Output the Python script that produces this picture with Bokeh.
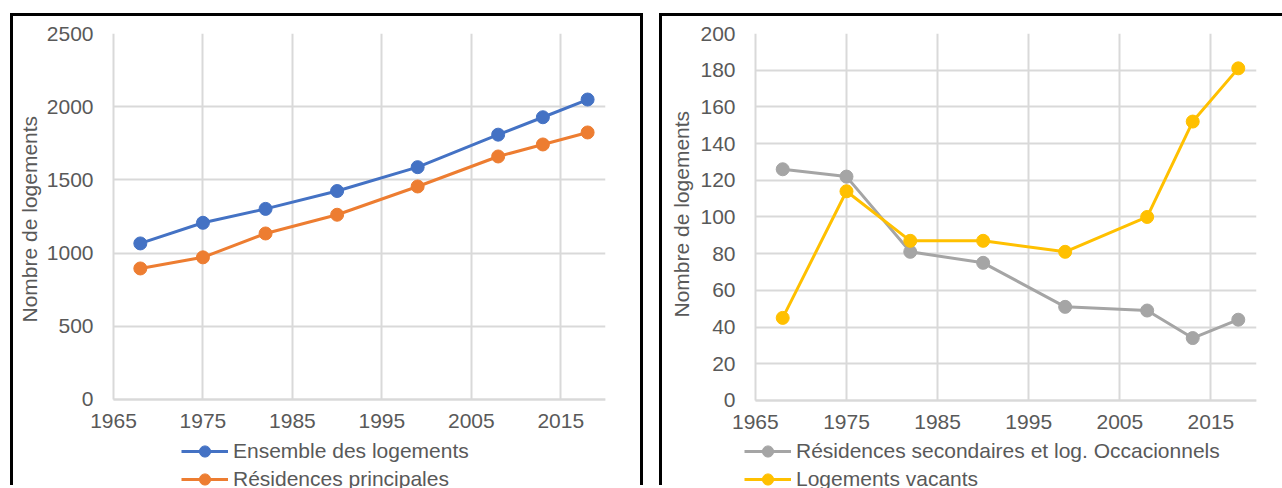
from bokeh.plotting import figure
from bokeh.models import Legend, LegendItem, FixedTicker, Range1d, Title
from bokeh.layouts import row
from bokeh.embed import file_html
from bokeh.resources import INLINE

# Census years and housing counts
years = [1968, 1975, 1982, 1990, 1999, 2008, 2013, 2018]
ensemble = [1066, 1207, 1302, 1424, 1587, 1809, 1928, 2049]
principales = [895, 971, 1134, 1262, 1455, 1660, 1742, 1824]
secondaires = [126, 122, 81, 75, 51, 49, 34, 44]
vacants = [45, 114, 87, 87, 81, 100, 152, 181]

x_ticks = [1965, 1975, 1985, 1995, 2005, 2015]
y_ticks_left = [0, 500, 1000, 1500, 2000, 2500]
y_ticks_right = [0, 20, 40, 60, 80, 100, 120, 140, 160, 180, 200]
y_title = "Nombre de logements"

FONT = "Liberation Sans"
TEXT = "#595959"
GRID = "#D9D9D9"
FS = "21px"
X_START, X_END = 1965, 2020


def panel(width, borders, x_lo, y_lo, y_max, y_ticks, series, legend_loc, margin,
          label_standoff, title_offset, title_standoff, right_border):
    left, right, top = borders
    # the frame runs down to the bottom of the canvas so that the legend,
    # which sits under the x axis, stays inside it
    p = figure(width=width, height=472,
               x_range=Range1d(x_lo, X_END), y_range=Range1d(y_lo, y_max),
               output_backend="svg", toolbar_location=None,
               min_border_left=left, min_border_right=right,
               min_border_top=top, min_border_bottom=0,
               background_fill_color="white", border_fill_color="white")
    p.outline_line_color = None
    p.margin = margin
    p.styles = {"border-top": "3px solid black", "border-left": "3px solid black",
                "border-right": "3px solid black" if right_border else "none"}

    p.xaxis.ticker = FixedTicker(ticks=x_ticks)
    p.yaxis.ticker = FixedTicker(ticks=y_ticks)
    p.xgrid.ticker = FixedTicker(ticks=x_ticks)
    p.ygrid.ticker = FixedTicker(ticks=y_ticks)
    p.xgrid.cross_bounds = (0, y_max)
    p.ygrid.cross_bounds = (X_START, X_END)
    for g in (p.xgrid, p.ygrid):
        g.grid_line_color = GRID
        g.grid_line_width = 2

    for ax in (p.xaxis, p.yaxis):
        ax.major_tick_line_color = None
        ax.minor_tick_line_color = None
        ax.major_label_text_font = FONT
        ax.major_label_text_font_size = FS
        ax.major_label_text_color = TEXT
    p.xaxis.fixed_location = 0
    p.xaxis.bounds = (X_START, X_END)
    p.xaxis.axis_line_color = GRID
    p.xaxis.axis_line_width = 2
    p.xaxis.major_label_standoff = 9
    p.yaxis.bounds = (0, y_max)
    p.yaxis.axis_line_color = None
    p.yaxis.major_label_standoff = label_standoff

    # vertical axis title, kept centred on the 0..y_max span
    p.add_layout(Title(text=y_title, align="left", offset=title_offset,
                       standoff=title_standoff,
                       text_font=FONT, text_font_size=FS,
                       text_font_style="normal", text_color=TEXT), "left")

    items = []
    for label, values, color in series:
        r_line = p.line(years, values, line_width=3, line_color=color)
        r_dot = p.scatter(years, values, size=13, fill_color=color, line_color=color)
        items.append(LegendItem(label=label, renderers=[r_line, r_dot]))

    legend = Legend(items=items, location=legend_loc, orientation="vertical",
                    padding=0, margin=0, spacing=0,
                    border_line_alpha=0, background_fill_alpha=0,
                    glyph_width=47, glyph_height=28, label_height=28,
                    label_standoff=5,
                    label_text_font=FONT, label_text_font_size=FS,
                    label_text_color=TEXT)
    p.add_layout(legend, "center")
    return p


p1 = panel(633, (76, 41, 17), 1962.43, -608, 2500, y_ticks_left,
           [("Ensemble des logements", ensemble, "#4472C4"),
            ("Résidences principales", principales, "#ED7D31")],
           (91, -5), (13, 0, 0, 10), -9, 166, 5, True)

p2 = panel(623, (68, 29, 12), 1962.49, -48, 200, y_ticks_right,
           [("Résidences secondaires et log. Occacionnels", secondaires, "#A5A5A5"),
            ("Logements vacants", vacants, "#FFC000")],
           (12, -5), (13, 0, 0, 16), -9, 171, 10, False)

layout = row(p1, p2, spacing=0)
open("out.html", "w").write(file_html(layout, INLINE))
